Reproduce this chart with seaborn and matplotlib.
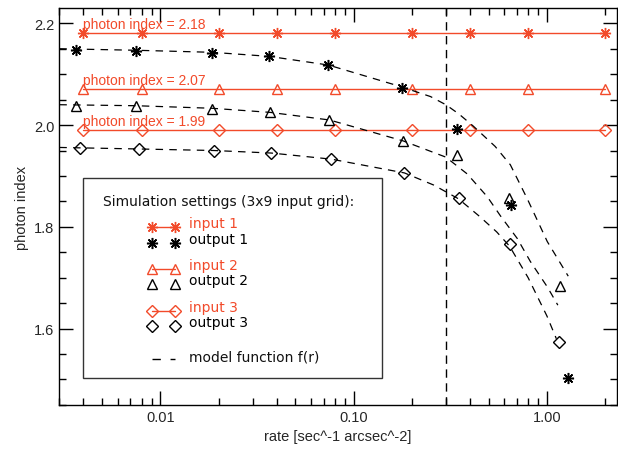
import matplotlib
matplotlib.use("Agg")
import matplotlib.pyplot as plt
import seaborn as sns
from matplotlib.patches import Rectangle
from matplotlib.ticker import FixedLocator, NullFormatter, MultipleLocator

# simulation inputs (3x9 grid)
rate_in = [0.004, 0.008, 0.02, 0.04, 0.08, 0.2, 0.4, 0.8, 2.0]
index_in = [2.18, 2.07, 1.99]

# simulation outputs
rate_out1 = [0.00368, 0.0075, 0.0185, 0.0366, 0.074, 0.179, 0.344, 0.65, 1.29]
index_out1 = [2.148, 2.146, 2.142, 2.135, 2.119, 2.072, 1.992, 1.842, 1.502]
rate_out2 = [0.00368, 0.0075, 0.0185, 0.0368, 0.075, 0.18, 0.343, 0.634, 1.17]
index_out2 = [2.038, 2.038, 2.032, 2.025, 2.010, 1.969, 1.941, 1.857, 1.683]
rate_out3 = [0.00383, 0.00772, 0.0189, 0.0375, 0.0767, 0.183, 0.349, 0.641, 1.15]
index_out3 = [1.954, 1.952, 1.950, 1.945, 1.933, 1.906, 1.857, 1.767, 1.573]

# model function f(r)
rate_mod1 = [0.003, 0.0075, 0.0185, 0.0366, 0.074, 0.174, 0.25, 0.30, 0.35, 0.416, 0.54, 0.647, 0.792, 1.005, 1.29]
index_mod1 = [2.150, 2.147, 2.143, 2.135, 2.118, 2.076, 2.056, 2.040, 2.022, 1.998, 1.958, 1.922, 1.855, 1.771, 1.703]
rate_mod2 = [0.003, 0.0075, 0.0185, 0.0368, 0.075, 0.18, 0.30, 0.387, 0.492, 0.574, 0.703, 0.821, 1.005, 1.14]
index_mod2 = [2.040, 2.038, 2.033, 2.025, 2.010, 1.969, 1.937, 1.904, 1.859, 1.822, 1.777, 1.732, 1.682, 1.646]
rate_mod3 = [0.003, 0.0077, 0.0189, 0.0375, 0.0767, 0.183, 0.26, 0.349, 0.45, 0.55, 0.641, 0.8, 1.0, 1.12]
index_mod3 = [1.956, 1.953, 1.950, 1.945, 1.933, 1.906, 1.882, 1.855, 1.82, 1.79, 1.762, 1.70, 1.625, 1.58]

rate_limit = 0.3

red = '#f24a2a'
star = (8, 2, 0)
dash = (6, 5)

sns.set_style("ticks")
plt.rcParams['font.family'] = ['Liberation Sans', 'DejaVu Sans']

fig = plt.figure(figsize=(6.18, 4.52), dpi=100)
ax = fig.add_axes([0.096, 0.102, 0.902, 0.878])

# inputs
in_marks = [star, '^', 'D']
in_sizes = [8, 7, 6]
for g, m, s in zip(index_in, in_marks, in_sizes):
    sns.lineplot(x=rate_in, y=[g] * len(rate_in), ax=ax, color=red, lw=1,
                 marker=m, ms=s, mfc='none', mec=red, mew=1, errorbar=None)
    ax.text(rate_in[0], g + 0.005, f"photon index = {g:.2f}", color=red,
            fontsize=10, ha='left', va='bottom')

# model curves
for r, g in [(rate_mod1, index_mod1), (rate_mod2, index_mod2), (rate_mod3, index_mod3)]:
    sns.lineplot(x=r, y=g, ax=ax, color='black', lw=0.9, dashes=False,
                 linestyle=(0, dash), errorbar=None)

# outputs
outs = [(rate_out1, index_out1, star, 8, 1.1),
        (rate_out2, index_out2, '^', 7, 1),
        (rate_out3, index_out3, 'D', 6, 1)]
for r, g, m, s, w in outs:
    sns.lineplot(x=r, y=g, ax=ax, color='black', linestyle='', marker=m, ms=s,
                 mfc='none', mec='black', mew=w, errorbar=None)

ax.axvline(rate_limit, color='black', lw=1, linestyle=(0, (6, 4)))

ax.set_xscale('log')
ax.set_xlim(0.003, 2.3)
ax.set_ylim(1.45, 2.23)
ax.set_xticks([0.01, 0.1, 1.0])
ax.set_xticklabels(['0.01', '0.10', '1.00'])
ax.xaxis.set_minor_locator(FixedLocator(
    [k * 10.0 ** e for e in (-3, -2, -1, 0) for k in range(2, 10)]))
ax.xaxis.set_minor_formatter(NullFormatter())
ax.yaxis.set_major_locator(MultipleLocator(0.2))
ax.yaxis.set_minor_locator(MultipleLocator(0.05))
ax.tick_params(which='both', direction='in', top=True, right=True, width=1,
               labelsize=10.5, color='black')
ax.tick_params(which='major', length=10)
ax.tick_params(which='minor', length=5)
for sp in ax.spines.values():
    sp.set_linewidth(1)
    sp.set_color('black')
ax.set_xlabel("rate [sec^-1 arcsec^-2]", fontsize=10.5)
ax.set_ylabel("photon index", fontsize=10.5)

# legend box drawn by hand
T = ax.transAxes
ax.add_patch(Rectangle((0.0425, 0.067), 0.5355, 0.505, transform=T,
                       fill=False, ec='#333333', lw=1, zorder=5))
lf = dict(family=['DejaVu Sans'], fontsize=10, va='center', transform=T)
ax.text(0.078, 0.5146, "Simulation settings (3x9 input grid):", color='#111111', **lf)
rows = [(0.448, star, 8, red, True, "input 1"),
        (0.408, star, 8, 'black', False, "output 1"),
        (0.3426, '^', 7, red, True, "input 2"),
        (0.305, '^', 7, 'black', False, "output 2"),
        (0.2375, 'D', 6, red, True, "input 3"),
        (0.1997, 'D', 6, 'black', False, "output 3")]
for y, m, s, c, joined, label in rows:
    ax.plot([0.1657, 0.2075], [y, y], transform=T, color=c, lw=1,
            linestyle='-' if joined else '', marker=m, ms=s, mfc='none',
            mec=c, mew=1.1 if (m == star and not joined) else 1, clip_on=False)
    ax.text(0.233, y + 0.01, label, color=c, **lf)
ax.plot([0.1657, 0.2075], [0.115, 0.115], transform=T, color='black', lw=1,
        linestyle=(0, (6, 7)))
ax.text(0.233, 0.121, "model function f(r)", color='#111111', **lf)

fig.savefig("out.png", dpi=100)
